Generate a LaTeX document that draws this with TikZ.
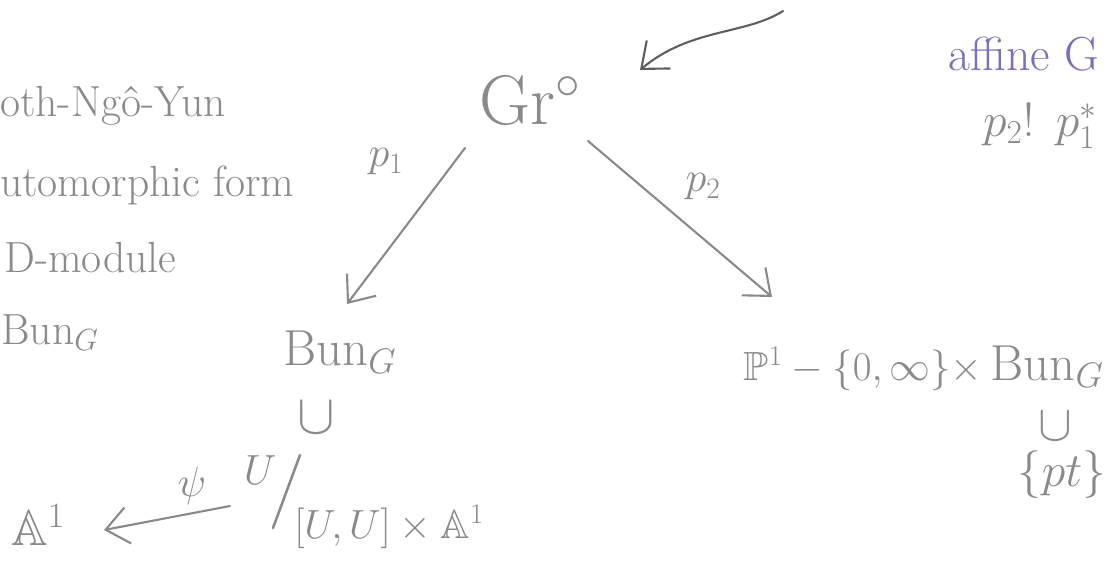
\RequirePackage{fix-cm}
\documentclass[tikz,border=0pt]{standalone}
\usepackage{amssymb}
\usepackage{fontspec}
\usetikzlibrary{arrows.meta}
\definecolor{ink}{RGB}{138,138,138}
\definecolor{inkdark}{RGB}{95,95,95}
\definecolor{violet}{RGB}{122,112,192}
\newcommand\hwA{\fontsize{31}{34}\selectfont}
\newcommand\hwB{\fontsize{36}{40}\selectfont}
\newcommand\hwC{\fontsize{50}{56}\selectfont}
\newcommand\hwL{\fontsize{30}{34}\selectfont}
\newcommand\hwM{\fontsize{29}{32}\selectfont}
\tikzset{
  txt/.style={text=ink, inner sep=0pt},
  arr/.style={draw=ink, line width=1.5pt, line cap=round,
    -{Straight Barb[length=16pt,width=26pt,line width=1.5pt]}},
}
\begin{document}
\begin{tikzpicture}[x=0.025cm,y=-0.025cm]
\clip (0,0) rectangle (1110,573);
\fill[white] (0,0) rectangle (1110,573);
% left notes
\node[txt, font=\hwA, anchor=base west] (n1) at (0,116) {oth-Ngô-Yun};
\node[txt, font=\hwA, anchor=base west] (n2) at (0,196) {utomorphic form};
\node[txt, font=\hwA, anchor=base west] (n3) at (4,272) {D-module};
\node[txt, font=\hwA, anchor=base west] (n4) at (1,344) {Bun$_G$};
% top right notes
\node[text=violet, inner sep=0pt, font=\fontsize{34}{38}\selectfont, anchor=base west] (af) at (948,70) {affine\hspace{0.3em}G};
\node[txt, font=\fontsize{34}{38}\selectfont] (pp) at (1040,126) {$p_2!\;\, p_1^{*}$};
% main diagram
\node[txt, font=\hwC] (gr) at (530,100) {Gr$^{\circ}$};
\node[txt, font=\hwB] (bun) at (340,352) {Bun$_G$};
\node[txt, font=\fontsize{40}{42}\selectfont] (sub1) at (316,418) {$\cup$};
\node[txt, font=\fontsize{30}{34}\selectfont] (qu) at (260,470) {$U$};
\coordinate (sl1) at (300,455);
\coordinate (sl2) at (273,528);
\draw[ink, line width=1.8pt, line cap=round] (sl1) -- (sl2);
\node[txt, font=\hwM, anchor=west] (qb) at (294,527) {$[U,U]\times\mathbb{A}^1$};
\node[txt, font=\hwB] (a1) at (38,525) {$\mathbb{A}^1$};
\node[txt, font=\hwB, anchor=east] (prod) at (1104,368) {{\hwM$\mathbb{P}^1-\{0,\infty\}\times$}\,Bun$_G$};
\node[txt, font=\fontsize{36}{38}\selectfont] (sub2) at (1055,426) {$\cup$};
\node[txt, font=\fontsize{34}{38}\selectfont] (pt) at (1062,475) {$\{pt\}$};
% labels
\node[txt, font=\hwL] (l1) at (386,162) {$p_1$};
\node[txt, font=\hwL] (l2) at (703,187) {$p_2$};
\node[txt, font=\hwL] (l3) at (192,486) {$\psi$};
% arrow end points
\coordinate (p1s) at (465,148);
\coordinate (p1e) at (347,304);
\coordinate (p2s) at (588,141);
\coordinate (p2e) at (772,297);
\coordinate (ps) at (230,506);
\coordinate (pe) at (104,530);
\coordinate (cs) at (783,11);
\coordinate (ce) at (640,70);
\draw[arr] (p1s) -- (p1e);
\draw[arr] (p2s) -- (p2e);
\draw[arr] (ps) -- (pe);
\draw[arr, draw=inkdark] (cs) .. controls (745,35) and (690,28) .. (ce);
\end{tikzpicture}
\end{document}
